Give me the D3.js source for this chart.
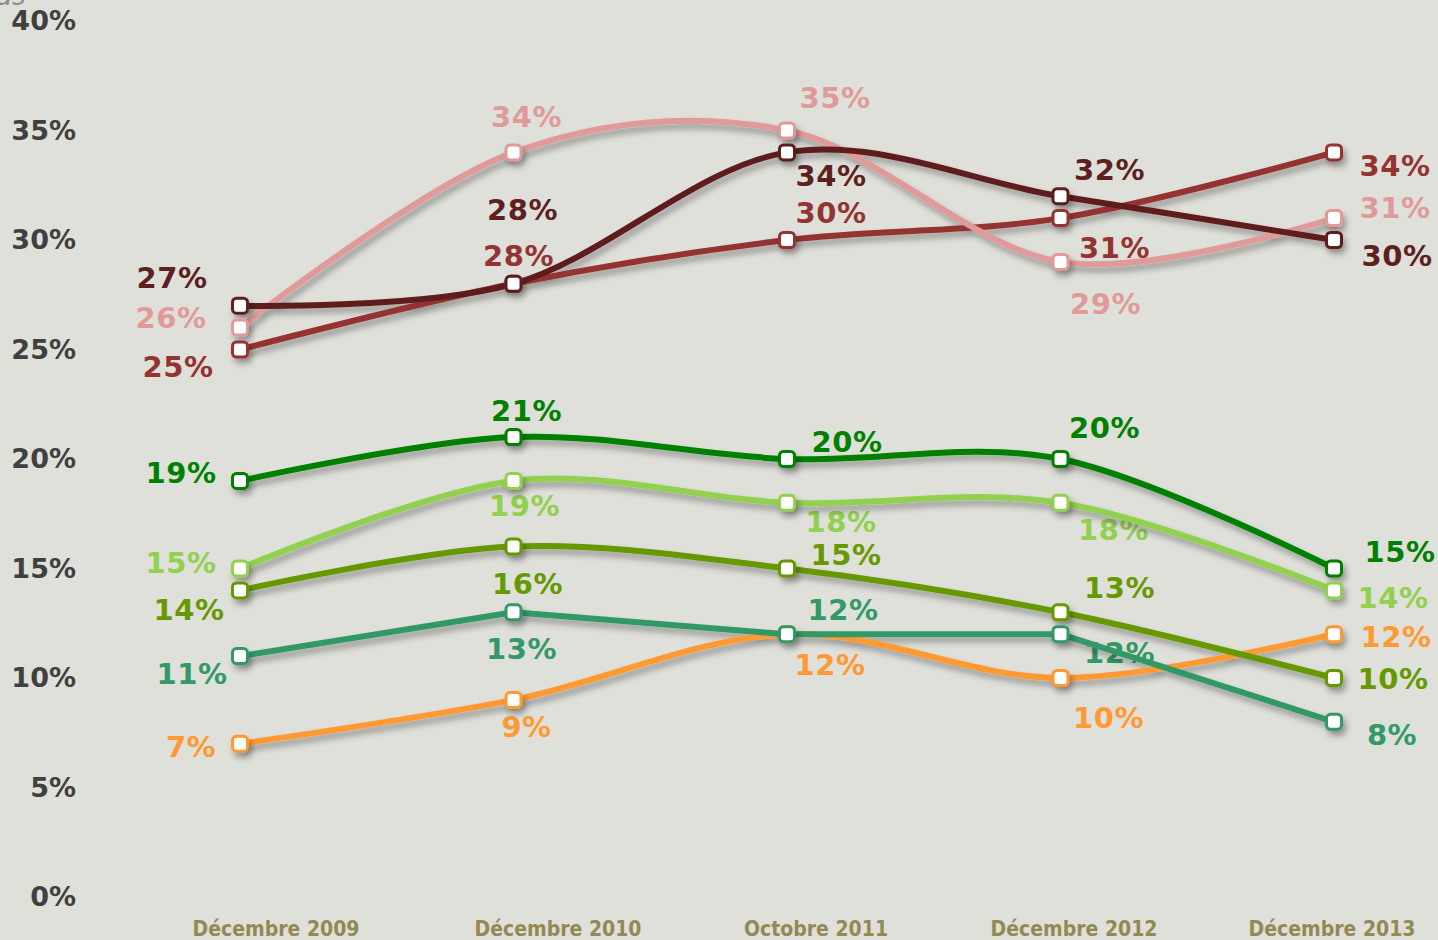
<!DOCTYPE html>
<html>
<head>
<meta charset="utf-8">
<script src="https://cdn.jsdelivr.net/npm/d3@7"></script>
<style>
  html, body { margin: 0; padding: 0; background: #dfe0da; overflow: hidden; }
  svg { display: block; }
  .ylab text { font-family: "DejaVu Sans", sans-serif; font-weight: bold; font-size: 27px; fill: #404040; }
  .xlab text { font-family: "DejaVu Sans Condensed", "DejaVu Sans", sans-serif; font-stretch: condensed; font-weight: bold; font-size: 21px; fill: #938953; }
  .val { font-family: "DejaVu Sans", sans-serif; font-weight: bold; font-size: 29px; letter-spacing: 0.5px; }
</style>
</head>
<body>
<script>
// categories & ticks
const categories = ["Décembre 2009", "Décembre 2010", "Octobre 2011", "Décembre 2012", "Décembre 2013"];
const yTicks = [0, 5, 10, 15, 20, 25, 30, 35, 40];

// series values (%)
const orangeVals = [7, 9, 12, 10, 12];
const tealVals = [11, 13, 12, 12, 8];
const oliveVals = [14, 16, 15, 13, 10];
const lightGreenVals = [15, 19, 18, 18, 14];
const darkGreenVals = [19, 21, 20, 20, 15];
const brownVals = [25, 28, 30, 31, 34];
const pinkVals = [26, 34, 35, 29, 31];
const maroonVals = [27, 28, 34, 32, 30];

const width = 1438, height = 940;

const svg = d3.select("body").append("svg")
  .attr("width", width)
  .attr("height", height);

// drop shadow like the office chart
const defs = svg.append("defs");
defs.append("filter")
  .attr("id", "shadow")
  .attr("x", "-20%").attr("y", "-20%")
  .attr("width", "140%").attr("height", "160%")
  .append("feDropShadow")
  .attr("dx", 3).attr("dy", 5)
  .attr("stdDeviation", 3)
  .attr("flood-color", "#000")
  .attr("flood-opacity", 0.33);

const x = d3.scalePoint().domain(categories).range([240, 1334]);
// the category labels sit on their own row, not quite under the points
const xLabelPos = d3.scaleLinear().domain([0, 1, 4]).range([276, 558, 1332]);
const y = d3.scaleLinear().domain([0, 40]).range([897, 21]);

// cut off note at the very top
svg.append("text")
  .attr("x", -4).attr("y", 5)
  .attr("font-family", "DejaVu Sans, sans-serif")
  .attr("font-style", "italic")
  .attr("font-size", 26)
  .attr("fill", "#8c8c8c")
  .text("as");

// y axis labels
const yAxis = svg.append("g")
  .attr("class", "ylab")
  .attr("transform", "translate(76,0)")
  .call(d3.axisLeft(y).tickValues(yTicks).tickFormat((d) => d + "%").tickSize(0).tickPadding(0));
yAxis.select(".domain").remove();

// x axis labels
svg.append("g")
  .attr("class", "xlab")
  .selectAll("text")
  .data(categories)
  .join("text")
  .attr("x", (d, i) => xLabelPos(i))
  .attr("y", 936)
  .attr("text-anchor", "middle")
  .text((d) => d);

// series, bottom to top drawing order
const series = [
  { name: "orange", values: orangeVals, color: "#ff9933", smooth: true,
    off: [[-49, 3], [13, 27], [43, 30], [48, 40], [62, 2]] },
  { name: "teal", values: tealVals, color: "#339966", smooth: false,
    off: [[-48, 17], [8, 36], [56, -25], [59, 18], [58, 13]] },
  { name: "olive", values: oliveVals, color: "#669900", smooth: true,
    off: [[-51, 19], [14, 37], [59, -14], [59, -25], [59, 1]] },
  { name: "lightgreen", values: lightGreenVals, color: "#92d050", smooth: true,
    off: [[-59, -6], [11, 25], [54, 19], [53, 27], [59, 7]] },
  { name: "darkgreen", values: darkGreenVals, color: "#008000", smooth: true,
    off: [[-59, -8], [13, -27], [60, -17], [44, -31], [66, -17]] },
  { name: "brown", values: brownVals, color: "#953333", smooth: true,
    off: [[-62, 17], [5, -28], [44, -27], [54, 29], [61, 13]] },
  { name: "pink", values: pinkVals, color: "#e09a9a", smooth: true,
    off: [[-69, -10], [13, -36], [48, -33], [45, 42], [61, -11]] },
  { name: "maroon", values: maroonVals, color: "#5e1f1f", smooth: true,
    off: [[-68, -28], [9, -74], [44, 23], [49, -27], [63, 16]] }
];

// data labels (below the lines, as in the source)
const labels = svg.append("g");
series.forEach((s) => {
  labels.selectAll("text." + s.name)
    .data(s.values)
    .join("text")
    .attr("class", "val " + s.name)
    .attr("x", (d, i) => x(categories[i]) + s.off[i][0])
    .attr("y", (d, i) => y(d) + s.off[i][1])
    .attr("dy", "0.36em")
    .attr("text-anchor", "middle")
    .attr("fill", s.color)
    .text((d) => d + "%");
});

// lines
const lines = svg.append("g").attr("filter", "url(#shadow)");
series.forEach((s) => {
  const line = d3.line()
    .x((d, i) => x(categories[i]))
    .y((d) => y(d))
    .curve(s.smooth ? d3.curveCardinal.tension(0) : d3.curveLinear);
  lines.append("path")
    .datum(s.values)
    .attr("fill", "none")
    .attr("stroke", s.color)
    .attr("stroke-width", 6)
    .attr("stroke-linejoin", "round")
    .attr("d", line);
});

// markers
const markers = svg.append("g").attr("filter", "url(#shadow)");
series.forEach((s) => {
  markers.selectAll("rect." + s.name)
    .data(s.values)
    .join("rect")
    .attr("class", s.name)
    .attr("x", (d, i) => x(categories[i]) - 7.5)
    .attr("y", (d) => y(d) - 7.5)
    .attr("width", 15)
    .attr("height", 15)
    .attr("rx", 4)
    .attr("fill", "#fff")
    .attr("stroke", s.color)
    .attr("stroke-width", 3);
});
</script>
</body>
</html>
